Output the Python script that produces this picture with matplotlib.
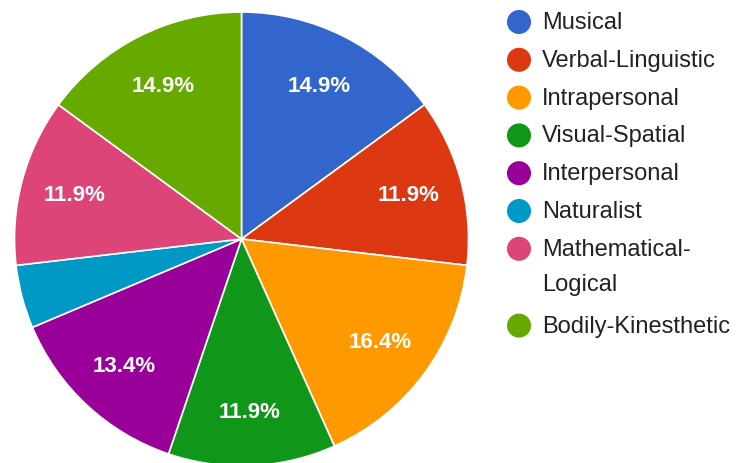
import matplotlib
matplotlib.use("Agg")
import matplotlib.pyplot as plt

# share of respondents per intelligence type (%)
categories = ["Musical", "Verbal-Linguistic", "Intrapersonal", "Visual-Spatial",
              "Interpersonal", "Naturalist", "Mathematical-Logical",
              "Bodily-Kinesthetic"]
legend_lines = [["Musical"], ["Verbal-Linguistic"], ["Intrapersonal"],
                ["Visual-Spatial"], ["Interpersonal"], ["Naturalist"],
                ["Mathematical-", "Logical"], ["Bodily-Kinesthetic"]]
shares = [14.9, 11.9, 16.4, 11.9, 13.4, 4.5, 11.9, 14.9]
colors = ["#3366cc", "#dc3912", "#ff9900", "#109618",
          "#990099", "#0099c6", "#dd4477", "#66aa00"]

plt.rcParams["font.family"] = ["Liberation Sans", "DejaVu Sans"]

W, H = 738, 464
fig = plt.figure(figsize=(W / 100, H / 100), dpi=100)

# pie: centre (241.5, 240) px, radius 227 px
cx, cy, r = 241.5, 240, 227
ax = fig.add_axes([(cx - r) / W, (H - cy - r) / H, 2 * r / W, 2 * r / H])


def pct_label(p):
    # small slices get no label
    return f"{p:.1f}%" if p >= 5 else ""


wedges, texts, autotexts = ax.pie(
    shares, colors=colors, startangle=90, counterclock=False, radius=1,
    autopct=pct_label, pctdistance=0.76,
    wedgeprops=dict(edgecolor="white", linewidth=1.2),
    textprops=dict(color="white", fontsize=16, fontweight="bold"))
ax.set_xlim(-1, 1); ax.set_ylim(-1, 1)
ax.axis("off")
for w in wedges:
    w.set_clip_on(False)

# legend drawn on a pixel-space overlay
lg = fig.add_axes([0, 0, 1, 1])
lg.set_xlim(0, W); lg.set_ylim(H, 0)
lg.axis("off")
y = 23
for lines, col in zip(legend_lines, colors):
    lg.scatter([519], [y], s=300, color=col, edgecolors="none")
    for k, line in enumerate(lines):
        lg.text(542, y + 35 * k, line, fontsize=17, color="#222222", va="center")
    y += 37.8 + 39 * (len(lines) - 1)

fig.savefig("out.png", dpi=100, facecolor="white")
